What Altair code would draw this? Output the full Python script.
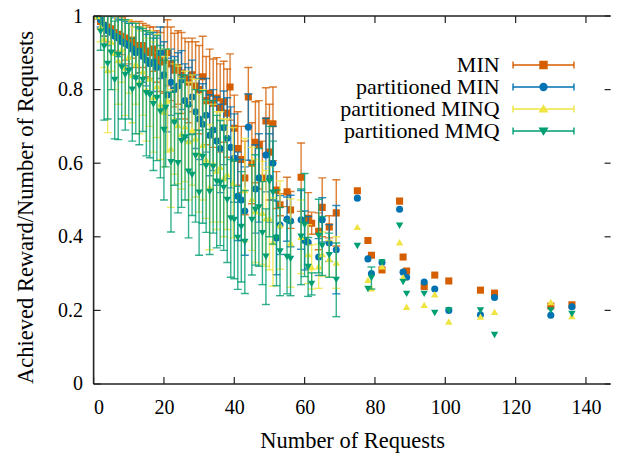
import altair as alt
import pandas as pd

series_names = ["MIN", "partitioned MIN", "partitioned MINQ", "partitioned MMQ"]
colors = ["#D55E00", "#0072B2", "#F0E442", "#009E73"]
shapes = ["square", "circle", "triangle-up", "triangle-down"]

x_ticks = [0, 20, 40, 60, 80, 100, 120, 140]
y_ticks = [0, 0.2, 0.4, 0.6, 0.8, 1.0]

# ---- MIN ----
min_x = [1, 2, 3, 4, 5, 6, 7, 8, 9, 10, 11, 12, 13, 14, 15, 16, 17, 18, 19, 20,
         21, 22, 23, 24, 25, 26, 27, 28, 29, 30, 31, 32, 33, 34, 35, 36, 37, 38, 38.8,
         40, 41, 42, 43, 44, 45, 46, 47, 48, 49, 50, 51, 52, 53,
         55, 56, 59, 61, 62, 64, 65, 67, 69,
         75, 78, 79, 82, 87, 88, 89, 94, 97, 101, 110, 114, 130, 136]
min_y = [1.00, 0.985, 0.975, 0.97, 0.965, 0.955, 0.95, 0.945, 0.94, 0.93, 0.935, 0.92, 0.915, 0.92, 0.905, 0.90, 0.91, 0.89, 0.875, 0.88,
         0.90, 0.87, 0.853, 0.86, 0.845, 0.83, 0.82, 0.84, 0.81, 0.80, 0.835, 0.77, 0.79, 0.763, 0.777, 0.75, 0.767, 0.736, 0.807,
         0.695, 0.64, 0.61, 0.56, 0.78, 0.60, 0.657, 0.65, 0.56, 0.715, 0.63, 0.707, 0.527, 0.487,
         0.522, 0.473, 0.562, 0.45, 0.437, 0.415, 0.48, 0.427, 0.465,
         0.525, 0.39, 0.35, 0.31, 0.497, 0.345, 0.307, 0.265, 0.296, 0.28, 0.255, 0.247, 0.212, 0.215]
min_e = [0, 0.02, 0.03, 0.04, 0.04, 0.05, 0.05, 0.05, 0.06, 0.06, 0.05, 0.06, 0.07, 0.06, 0.07, 0.07, 0.06, 0.07, 0.08, 0.09,
         0.09, 0.10, 0.10, 0.10, 0.11, 0.11, 0.11, 0.10, 0.12, 0.12, 0.11, 0.12, 0.12, 0.12, 0.11, 0.12, 0.11, 0.12, 0.09,
         0.09, 0.10, 0.09, 0.10, 0.08, 0.11, 0.11, 0.12, 0.10, 0.09, 0.13, 0.10, 0.05, 0.03,
         0.04, 0.05, 0.093, 0.07, 0.03, 0.05, 0.08, 0.03, 0.09,
         0, 0, 0, 0, 0, 0, 0, 0, 0, 0, 0, 0, 0, 0]

# ---- partitioned MIN ----
pmin_x = [1, 2, 3, 4, 5, 6, 7, 8, 9, 10, 11, 12, 13, 14, 15, 16, 17, 18, 19, 20,
          21, 22, 23, 24, 25, 26, 27, 28, 29, 30, 31, 32, 33, 34, 35, 36, 37, 38, 39, 40, 41, 42, 43, 44,
          46, 47, 49, 50, 51, 52, 53, 55, 56, 59, 60, 61, 64, 65, 67, 69,
          75, 78, 79, 82, 87, 88, 89, 94, 97, 101, 110, 114, 130, 136]
pmin_y = [1.00, 0.99, 0.975, 0.96, 0.955, 0.945, 0.94, 0.93, 0.925, 0.92, 0.91, 0.90, 0.905, 0.89, 0.88, 0.87, 0.875, 0.86, 0.90, 0.84,
          0.785, 0.82, 0.80, 0.81, 0.826, 0.77, 0.76, 0.78, 0.74, 0.72, 0.706, 0.73, 0.676, 0.69, 0.66, 0.64, 0.696, 0.668, 0.643, 0.614, 0.51, 0.50, 0.47, 0.698,
          0.53, 0.56, 0.622, 0.56, 0.60, 0.397, 0.432, 0.448, 0.443, 0.446, 0.39, 0.385, 0.345, 0.446, 0.383, 0.365,
          0.505, 0.34, 0.30, 0.33, 0.475, 0.304, 0.29, 0.277, 0.258, 0.20, 0.188, 0.235, 0.187, 0.21]
pmin_e = [0, 0.02, 0.03, 0.04, 0.05, 0.05, 0.05, 0.06, 0.06, 0.06, 0.07, 0.07, 0.06, 0.07, 0.07, 0.08, 0.08, 0.08, 0.07, 0.09,
          0.10, 0.09, 0.09, 0.09, 0.08, 0.10, 0.10, 0.10, 0.10, 0.11, 0.11, 0.10, 0.11, 0.11, 0.12, 0.12, 0.10, 0.11, 0.11, 0.12, 0.12, 0.11, 0.12, 0.09,
          0.12, 0.12, 0.10, 0.12, 0.10, 0.10, 0.08, 0.06, 0.07, 0.08, 0.08, 0.07, 0.05, 0.06, 0.05, 0.12,
          0, 0, 0, 0, 0, 0, 0, 0, 0, 0, 0, 0, 0, 0]

# ---- partitioned MINQ ----
minq_x = [1, 2, 3, 4, 5, 6, 7, 8, 9, 10, 11, 12, 13, 14, 15, 16, 17, 18, 19, 20,
          21, 22, 23, 24, 25, 26, 27, 28, 29, 30, 31, 32, 33, 34, 35, 36, 37, 38,
          39.7, 43, 45, 46, 48, 49, 50, 51, 53, 56, 59, 61, 62, 64, 65, 67, 69,
          75, 78, 79, 82, 87, 88, 89, 94, 97, 101, 110, 114, 130, 136]
minq_y = [1.00, 0.97, 0.94, 0.853, 0.93, 0.90, 0.88, 0.91, 0.86, 0.89, 0.84, 0.87, 0.82, 0.85, 0.80, 0.83, 0.78, 0.81, 0.76, 0.74,
          0.77, 0.64, 0.72, 0.704, 0.68, 0.70, 0.66, 0.69, 0.668, 0.627, 0.65, 0.61, 0.535, 0.60, 0.58, 0.59, 0.56, 0.57,
          0.547, 0.527, 0.503, 0.47, 0.465, 0.45, 0.45, 0.386, 0.432, 0.383, 0.40, 0.353, 0.318, 0.32, 0.353, 0.34, 0.33,
          0.427, 0.283, 0.26, 0.32, 0.385, 0.29, 0.21, 0.215, 0.244, 0.17, 0.183, 0.196, 0.223, 0.185]
minq_e = [0, 0.04, 0.08, 0.17, 0.08, 0.10, 0.12, 0.09, 0.13, 0.10, 0.13, 0.11, 0.14, 0.12, 0.14, 0.13, 0.15, 0.14, 0.15, 0.15,
          0.14, 0.16, 0.15, 0.16, 0.15, 0.15, 0.16, 0.15, 0.16, 0.16, 0.15, 0.16, 0.17, 0.16, 0.16, 0.15, 0.16, 0.15,
          0.15, 0.14, 0.14, 0.14, 0.14, 0.13, 0.14, 0.12, 0.12, 0.12, 0.10, 0.08, 0.06, 0.06, 0.06, 0.05, 0.07,
          0, 0, 0, 0, 0, 0, 0, 0, 0, 0, 0, 0, 0, 0]

# ---- partitioned MMQ ----
mmq_x = [1, 2, 3, 4, 5, 6, 7, 8, 9, 10, 11, 12, 13, 14, 15, 16, 17, 18, 19, 20, 20.5,
         22, 23, 24, 25, 26, 27, 28, 29, 30, 31, 32, 33, 34, 35, 36, 37, 38, 39, 40, 41, 42, 43,
         45, 46, 47, 48, 49, 50, 51, 52, 53,
         55, 56, 59, 60, 61, 62, 64, 65, 67, 69,
         75, 78, 79, 82, 87, 88, 89, 94, 97, 101, 110, 114, 130, 136]
mmq_y = [1.00, 0.957, 0.917, 0.87, 0.90, 0.826, 0.894, 0.86, 0.84, 0.85, 0.80, 0.83, 0.81, 0.826, 0.79, 0.785, 0.76, 0.777, 0.74, 0.69, 0.75,
         0.603, 0.71, 0.60, 0.66, 0.67, 0.577, 0.568, 0.62, 0.52, 0.617, 0.592, 0.522, 0.59, 0.55, 0.546, 0.533, 0.50, 0.45, 0.446, 0.397, 0.427, 0.386,
         0.446, 0.473, 0.48, 0.41, 0.346, 0.55, 0.52, 0.397, 0.36,
         0.345, 0.34, 0.40, 0.432, 0.318, 0.272, 0.402, 0.375, 0.35, 0.283,
         0.375, 0.258, 0.288, 0.33, 0.43, 0.277, 0.245, 0.245, 0.193, 0.20, 0.20, 0.133, 0.20, 0.19]
mmq_e = [0, 0.05, 0.20, 0.15, 0.10, 0.16, 0.23, 0.14, 0.15, 0.13, 0.14, 0.15, 0.16, 0.14, 0.17, 0.17, 0.18, 0.17, 0.18, 0.19, 0.16,
         0.19, 0.17, 0.135, 0.18, 0.17, 0.18, 0.11, 0.18, 0.17, 0.18, 0.18, 0.17, 0.18, 0.18, 0.17, 0.17, 0.17, 0.16, 0.16, 0.14, 0.15, 0.14,
         0.15, 0.15, 0.16, 0.14, 0.13, 0.15, 0.14, 0.13, 0.12,
         0.10, 0.10, 0.13, 0.14, 0.08, 0.03, 0.10, 0.08, 0.06, 0.10,
         0, 0, 0.03, 0, 0, 0, 0, 0, 0, 0, 0, 0, 0, 0]

all_x = [min_x, pmin_x, minq_x, mmq_x]
all_y = [min_y, pmin_y, minq_y, mmq_y]
all_e = [min_e, pmin_e, minq_e, mmq_e]

# legend symbols (unit = 3.5 px): a tiny anchor on the left, then an error bar
# with caps and the marker, drawn to the right of the right-aligned labels
_bar = "M-10,0h0.001M52.7,0H70.1M52.7,-1V1M70.1,-1V1"
legend_paths = [
    _bar + "M60.4,-1H62.4V1H60.4Z",
    _bar + "M62.4,0A1,1,0,1,1,60.4,0A1,1,0,1,1,62.4,0Z",
    _bar + "M61.4,-1L62.5,0.8H60.3Z",
    _bar + "M61.4,1L62.5,-0.8H60.3Z",
]

FONT = "Liberation Serif"
W, H = 517, 368
X_MAX = 147.0

x_enc = alt.X("x:Q", scale=alt.Scale(domain=[0, X_MAX], nice=False, zero=False),
              axis=alt.Axis(values=x_ticks, format="d", title="Number of Requests"))
y_enc = alt.Y("y:Q", scale=alt.Scale(domain=[0, 1], nice=False),
              axis=alt.Axis(values=y_ticks, format="~g", title="Achieved Reward/Number of Requests",
                            titleY=191))

layers = []
for i, name in enumerate(series_names):
    df = pd.DataFrame({"x": all_x[i], "y": all_y[i], "e": all_e[i]})
    df["lo"] = df["y"] - df["e"]
    df["hi"] = df["y"] + df["e"]
    eb = df[df["e"] > 0]
    base_eb = alt.Chart(eb)
    layers.append(base_eb.mark_rule(color=colors[i], strokeWidth=1.4, opacity=0.8, clip=True)
                  .encode(x=x_enc, y=alt.Y("lo:Q"), y2="hi:Q"))
    layers.append(base_eb.mark_tick(color=colors[i], orient="horizontal", size=8, thickness=1.4,
                                    opacity=0.8, clip=True)
                  .encode(x=x_enc, y=alt.Y("lo:Q")))
    layers.append(base_eb.mark_tick(color=colors[i], orient="horizontal", size=8, thickness=1.4,
                                    opacity=0.8, clip=True)
                  .encode(x=x_enc, y=alt.Y("hi:Q")))
    layers.append(alt.Chart(df).mark_point(shape=shapes[i], filled=True, color=colors[i], opacity=1,
                                           size=50 if i < 2 else 55, clip=True)
                  .encode(x=x_enc, y=y_enc))

# border (left, top, bottom; the right border lies just outside the picture)
frame_color = "#222222"
one = pd.DataFrame({"k": [0]})
layers.append(alt.Chart(one).mark_rule(color=frame_color, strokeWidth=1.6)
              .encode(x=alt.value(0), y=alt.value(0), y2=alt.value(H)))
layers.append(alt.Chart(one).mark_rule(color=frame_color, strokeWidth=1.6)
              .encode(y=alt.value(0), x=alt.value(0), x2=alt.value(W)))
layers.append(alt.Chart(one).mark_rule(color=frame_color, strokeWidth=1.6)
              .encode(y=alt.value(H), x=alt.value(0), x2=alt.value(W)))

# inward tick marks on all four sides
xt = pd.DataFrame({"x": x_ticks})
yt = pd.DataFrame({"y": y_ticks})
layers.append(alt.Chart(xt).mark_rule(color=frame_color, strokeWidth=1.2)
              .encode(x=x_enc, y=alt.value(H), y2=alt.value(H - 7)))
layers.append(alt.Chart(xt).mark_rule(color=frame_color, strokeWidth=1.2)
              .encode(x=x_enc, y=alt.value(0), y2=alt.value(7)))
layers.append(alt.Chart(yt).mark_rule(color=frame_color, strokeWidth=1.2)
              .encode(y=y_enc, x=alt.value(0), x2=alt.value(7)))
layers.append(alt.Chart(yt).mark_rule(color=frame_color, strokeWidth=1.2)
              .encode(y=y_enc, x=alt.value(W - 6), x2=alt.value(W)))

# legend carrier (invisible marks, legend only)
leg = alt.Legend(orient="none", legendX=224, legendY=38, title=None,
                 labelAlign="right", labelOffset=160, labelFont=FONT, labelFontSize=22,
                 labelLimit=400, symbolSize=49, symbolStrokeWidth=1.4, symbolOpacity=1,
                 padding=0, rowPadding=0, labelColor="black")
legend_df = pd.DataFrame({"series": series_names})
layers.append(alt.Chart(legend_df).mark_point(filled=True, opacity=0)
              .encode(shape=alt.Shape("series:N", scale=alt.Scale(domain=series_names, range=legend_paths), legend=leg),
                      fill=alt.Fill("series:N", scale=alt.Scale(domain=series_names, range=colors), legend=leg),
                      stroke=alt.Stroke("series:N", scale=alt.Scale(domain=series_names, range=colors), legend=leg)))

chart = alt.layer(*layers).properties(
    width=W, height=H,
    autosize=alt.AutoSizeParams(type="none"),
    padding={"left": 85.6, "top": 8, "right": 0, "bottom": 71},
).configure_view(stroke=None).configure_axis(
    grid=False, domain=False, ticks=False,
    labelFont=FONT, labelFontSize=20, labelColor="black", labelPadding=11,
    titleFont=FONT, titleFontSize=22.5, titleFontWeight="normal", titleColor="black",
).configure_axisX(titlePadding=12, labelPadding=14).configure_axisY(titlePadding=20)

chart.save("out.html", embed_options={"renderer": "svg", "actions": False})
